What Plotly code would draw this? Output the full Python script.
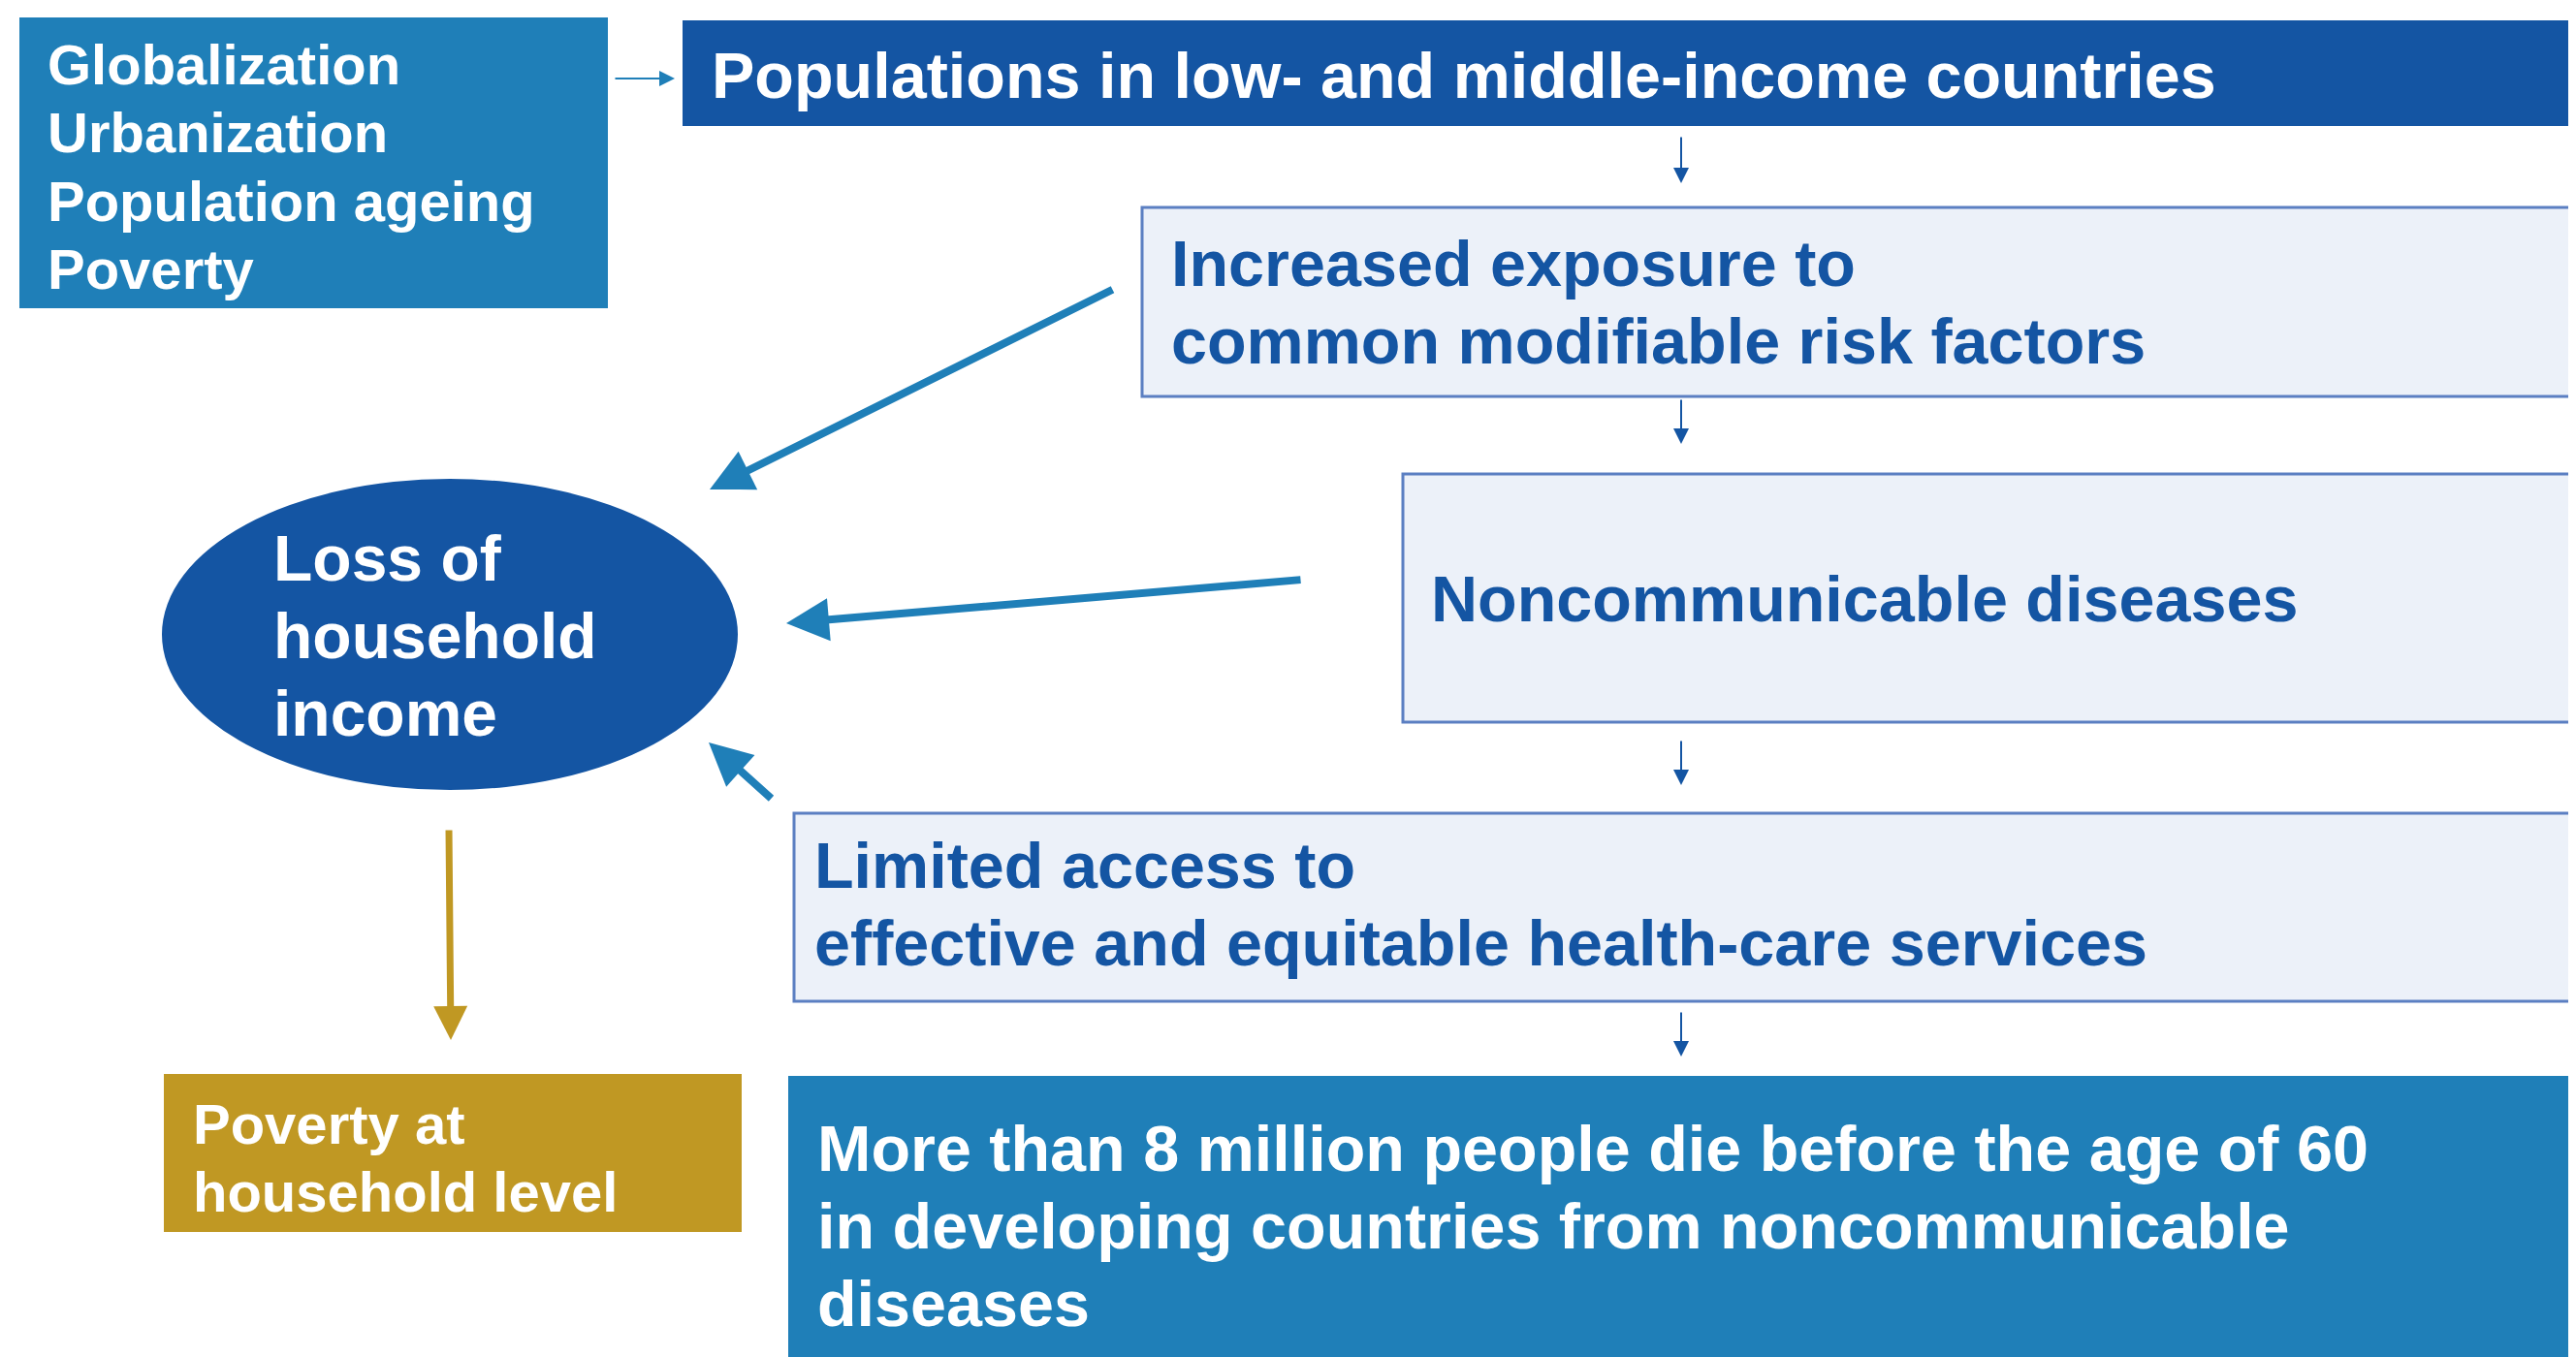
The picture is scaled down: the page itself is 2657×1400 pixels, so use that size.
import plotly.graph_objects as go

W, H = 2657, 1400
FONT = "Liberation Sans, Arial, sans-serif"

MID_BLUE = "#1f7fb8"
DARK_BLUE = "#1455a3"
LIGHT_FILL = "#ecf1f9"
LIGHT_LINE = "#5b7fc2"
GOLD = "#c09823"
WHITE = "#ffffff"

# ---- text content ----
drivers_lines = ["Globalization", "Urbanization", "Population ageing", "Poverty"]
populations_lines = ["Populations in low- and middle-income countries"]
exposure_lines = ["Increased exposure to", "common modifiable risk factors"]
ncd_lines = ["Noncommunicable diseases"]
access_lines = ["Limited access to", "effective and equitable health-care services"]
deaths_lines = ["More than 8 million people die before the age of 60",
                "in developing countries from noncommunicable",
                "diseases"]
income_lines = ["Loss of", "household", "income"]
poverty_lines = ["Poverty at", "household level"]

# ---- boxes: (x0, y0, x1, y1, fill, line colour, line width) ----
boxes = [
    (12, 10, 619, 310, MID_BLUE, None, 0),
    (696, 13, 2647, 122, DARK_BLUE, None, 0),
    (1170, 206, 2647, 401, LIGHT_FILL, LIGHT_LINE, 3),
    (1439, 481, 2647, 737, LIGHT_FILL, LIGHT_LINE, 3),
    (811, 831, 2647, 1025, LIGHT_FILL, LIGHT_LINE, 3),
    (805, 1102, 2647, 1400, MID_BLUE, None, 0),
    (161, 1100, 757, 1263, GOLD, None, 0),
]
ellipse = (159, 486, 753, 807, DARK_BLUE)

# ---- text blocks: (lines, x, first line y, line step, size, colour) ----
text_blocks = [
    (drivers_lines, 39, 58, 70.5, 58, WHITE),
    (populations_lines, 724, 70, 80, 66.5, WHITE),
    (exposure_lines, 1198, 264, 80, 66.5, DARK_BLUE),
    (ncd_lines, 1466, 610, 80, 66.5, DARK_BLUE),
    (access_lines, 830, 885, 80, 66.5, DARK_BLUE),
    (deaths_lines, 833, 1177, 80, 66.5, WHITE),
    (income_lines, 272, 568, 80, 66, WHITE),
    (poverty_lines, 189, 1151, 70, 58, WHITE),
]

# ---- arrows: (tail x, tail y, head x, head y, colour, width, head size) ----
arrows = [
    (625, 73, 688, 73, MID_BLUE, 2, 1.6),
    (1726, 132, 1726, 181, DARK_BLUE, 2, 1.6),
    (1726, 403, 1726, 450, DARK_BLUE, 2, 1.6),
    (1726, 755, 1726, 802, DARK_BLUE, 2, 1.6),
    (1726, 1035, 1726, 1082, DARK_BLUE, 2, 1.6),
    (1141, 290, 724, 497, MID_BLUE, 8, 1.1),
    (1335, 590, 803, 635, MID_BLUE, 8, 1.1),
    (789, 817, 723, 758, MID_BLUE, 8, 1.1),
    (455, 847, 457, 1065, GOLD, 7, 1.0),
]

fig = go.Figure()

shapes = []
for x0, y0, x1, y1, fill, lc, lw in boxes:
    shapes.append(dict(type="rect", xref="x", yref="y", x0=x0, y0=y0, x1=x1, y1=y1,
                       fillcolor=fill, line=dict(color=lc or fill, width=lw), layer="below"))
ex0, ey0, ex1, ey1, ecol = ellipse
shapes.append(dict(type="circle", xref="x", yref="y", x0=ex0, y0=ey0, x1=ex1, y1=ey1,
                   fillcolor=ecol, line=dict(width=0), layer="below"))

annotations = []
for lines, x, y, step, size, col in text_blocks:
    for i, t in enumerate(lines):
        annotations.append(dict(x=x, y=y + i * step, xref="x", yref="y", text="<b>" + t + "</b>",
                                showarrow=False, xanchor="left", yanchor="middle",
                                font=dict(family=FONT, size=size, color=col)))

for tx, ty, hx, hy, col, w, hs in arrows:
    annotations.append(dict(x=hx, y=hy, ax=tx, ay=ty, xref="x", yref="y", axref="x", ayref="y",
                            text="", showarrow=True, arrowhead=2, arrowsize=hs, arrowwidth=w,
                            arrowcolor=col, standoff=0, startstandoff=0))

fig.update_layout(
    width=W, height=H,
    margin=dict(l=0, r=0, t=0, b=0),
    paper_bgcolor="white", plot_bgcolor="white",
    xaxis=dict(range=[0, W], visible=False, fixedrange=True),
    yaxis=dict(range=[H, 0], visible=False, fixedrange=True),
    shapes=shapes, annotations=annotations, showlegend=False,
)

fig.write_html("out.html")
